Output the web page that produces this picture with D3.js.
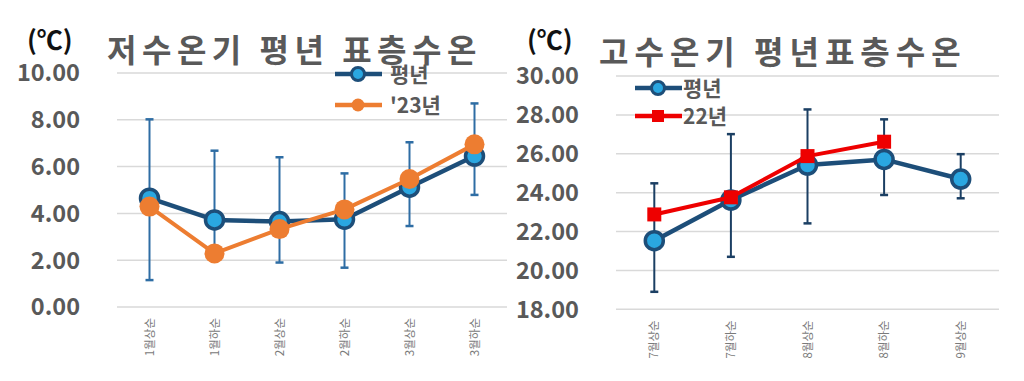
<!DOCTYPE html>
<html><head><meta charset="utf-8">
<script src="https://cdn.jsdelivr.net/npm/d3@7"></script>
<style>body{margin:0;background:#fff}svg{display:block}text{font-family:"Noto Sans CJK KR","Noto Sans",sans-serif}</style>
</head><body><svg id="c" width="1024" height="381"></svg>
<script>
const leftCats = ["1월상순","1월하순","2월상순","2월하순","3월상순","3월하순"];
const leftNormal = [4.65, 3.72, 3.65, 3.75, 5.12, 6.45];
const leftNormalHigh = [8.02, 6.68, 6.40, 5.71, 7.04, 8.70];
const leftNormalLow = [1.15, 2.40, 1.90, 1.68, 3.46, 4.79];
const left2023 = [4.29, 2.29, 3.33, 4.17, 5.47, 6.95];
const leftTicks = [0, 2, 4, 6, 8, 10];

const rightCats = ["7월상순","7월하순","8월상순","8월하순","9월상순"];
const rightNormal = [21.53, 23.62, 25.42, 25.71, 24.70];
const rightNormalHigh = [24.48, 27.01, 28.28, 27.77, 25.98];
const rightNormalLow = [18.90, 20.70, 22.42, 23.88, 23.71];
const right2022 = [22.88, 23.76, 25.88, 26.62];
const rightTicks = [18, 20, 22, 24, 26, 28, 30];

const svg = d3.select("#c");
const NAVY = "#1d4e79", LIGHT = "#2aa7e1", ORANGE = "#ed7d31", RED = "#ee0000";

function panel(o){
  const g = svg.append("g");
  const x = d3.scaleBand().domain(o.cats).range([o.x0, o.x1]);
  const y = d3.scaleLinear().domain(o.domain).range([o.y0, o.y1]);
  const cx = c => x(c) + x.bandwidth()/2;
  // grid
  g.selectAll(".grid").data(o.ticks).join("line")
    .attr("x1", o.x0).attr("x2", o.x1)
    .attr("y1", d=>y(d)).attr("y2", d=>y(d))
    .attr("stroke", "#d9d9d9").attr("stroke-width", 1.5);
  // y labels
  g.selectAll(".yl").data(o.ticks).join("text")
    .attr("x", o.labelX).attr("y", d=>y(d)).attr("dy", "0.36em")
    .attr("text-anchor", "end").attr("font-size", 23.5).attr("font-weight", "bold")
    .attr("fill", "#595959").text(d=>d3.format(".2f")(d));
  // x labels
  g.selectAll(".xl").data(o.cats).join("text")
    .attr("transform", d=>`translate(${cx(d)+4},${o.y0+11}) rotate(-90)`)
    .attr("text-anchor", "end").attr("font-size", 11.5).attr("fill", "#7a7a7a")
    .text(d=>d);
  // error bars
  const eb = g.selectAll(".eb").data(o.cats).join("g");
  eb.append("line").attr("x1", d=>cx(d)).attr("x2", d=>cx(d))
    .attr("y1", (d,i)=>y(o.high[i])).attr("y2", (d,i)=>y(o.low[i]))
    .attr("stroke", o.errColor).attr("stroke-width", 2);
  eb.append("line").attr("x1", d=>cx(d)-4).attr("x2", d=>cx(d)+4)
    .attr("y1", (d,i)=>y(o.high[i])).attr("y2", (d,i)=>y(o.high[i]))
    .attr("stroke", o.errColor).attr("stroke-width", 2.5);
  eb.append("line").attr("x1", d=>cx(d)-4).attr("x2", d=>cx(d)+4)
    .attr("y1", (d,i)=>y(o.low[i])).attr("y2", (d,i)=>y(o.low[i]))
    .attr("stroke", o.errColor).attr("stroke-width", 2.5);
  const line = d3.line().x((d,i)=>cx(o.cats[i])).y(d=>y(d));
  // normal series
  g.append("path").datum(o.normal).attr("d", line).attr("fill", "none")
    .attr("stroke", NAVY).attr("stroke-width", 4.5).attr("stroke-linejoin", "round");
  g.selectAll(".nm").data(o.normal).join("circle")
    .attr("cx", (d,i)=>cx(o.cats[i])).attr("cy", d=>y(d)).attr("r", 9)
    .attr("fill", LIGHT).attr("stroke", NAVY).attr("stroke-width", 3.5);
  // comparison series
  g.append("path").datum(o.cmp).attr("d", line).attr("fill", "none")
    .attr("stroke", o.cmpColor).attr("stroke-width", 4).attr("stroke-linejoin", "round");
  if (o.cmpSquare) {
    g.selectAll(".cm").data(o.cmp).join("rect")
      .attr("x", (d,i)=>cx(o.cats[i])-7).attr("y", d=>y(d)-7)
      .attr("width", 14).attr("height", 14).attr("fill", o.cmpColor);
  } else {
    g.selectAll(".cm").data(o.cmp).join("circle")
      .attr("cx", (d,i)=>cx(o.cats[i])).attr("cy", d=>y(d)).attr("r", 10)
      .attr("fill", o.cmpColor);
  }
  // titles
  g.append("text").attr("x", o.unitX).attr("y", 50).attr("font-size", 26)
    .attr("font-weight", "bold").attr("fill", "#111").text("(℃)");
  g.append("text").attr("x", o.titleX).attr("y", o.titleY).attr("font-size", 32)
    .attr("font-weight", "bold").attr("fill", "#595959").attr("letter-spacing", o.titleLS)
    .text(o.title);
  // legend
  const lg = g.append("g");
  lg.append("line").attr("x1", o.legX).attr("x2", o.legX+47).attr("y1", o.legY).attr("y2", o.legY)
    .attr("stroke", NAVY).attr("stroke-width", 4.5);
  lg.append("circle").attr("cx", o.legX+23).attr("cy", o.legY).attr("r", 6.5)
    .attr("fill", LIGHT).attr("stroke", NAVY).attr("stroke-width", 3);
  lg.append("text").attr("x", o.legX+o.legTx).attr("y", o.legY).attr("dy", "0.36em")
    .attr("font-size", 21).attr("font-weight", "bold").attr("fill", "#595959").text("평년");
  const ly2 = o.legY + o.legGap;
  lg.append("line").attr("x1", o.legX).attr("x2", o.legX+47).attr("y1", ly2).attr("y2", ly2)
    .attr("stroke", o.cmpColor).attr("stroke-width", 4.5);
  if (o.cmpSquare) {
    lg.append("rect").attr("x", o.legX+17).attr("y", ly2-6).attr("width", 12).attr("height", 12).attr("fill", o.cmpColor);
  } else {
    lg.append("circle").attr("cx", o.legX+23).attr("cy", ly2).attr("r", 6.5).attr("fill", o.cmpColor);
  }
  lg.append("text").attr("x", o.legX+o.legTx).attr("y", ly2).attr("dy", "0.36em")
    .attr("font-size", 21).attr("font-weight", "bold").attr("fill", "#595959").text(o.cmpName);
}

panel({cats: leftCats, normal: leftNormal, high: leftNormalHigh, low: leftNormalLow,
  cmp: left2023, cmpName: "'23년", cmpColor: ORANGE, cmpSquare: false,
  domain: [0, 10], ticks: leftTicks, x0: 117, x1: 507, y0: 307, y1: 73,
  labelX: 80, errColor: "#2e6da4", unitX: 27, titleX: 107, titleY: 62, titleLS: 5.5,
  title: "저수온기 평년 표층수온", legX: 335, legY: 74, legGap: 31, legTx: 55});

panel({cats: rightCats, normal: rightNormal, high: rightNormalHigh, low: rightNormalLow,
  cmp: right2022, cmpName: "22년", cmpColor: RED, cmpSquare: true,
  domain: [18, 30], ticks: rightTicks, x0: 616, x1: 999, y0: 309.3, y1: 76,
  labelX: 579, errColor: "#1b3f63", unitX: 527, titleX: 599, titleY: 64, titleLS: 6,
  title: "고수온기 평년표층수온", legX: 635, legY: 88, legGap: 28, legTx: 48});
</script></body></html>
